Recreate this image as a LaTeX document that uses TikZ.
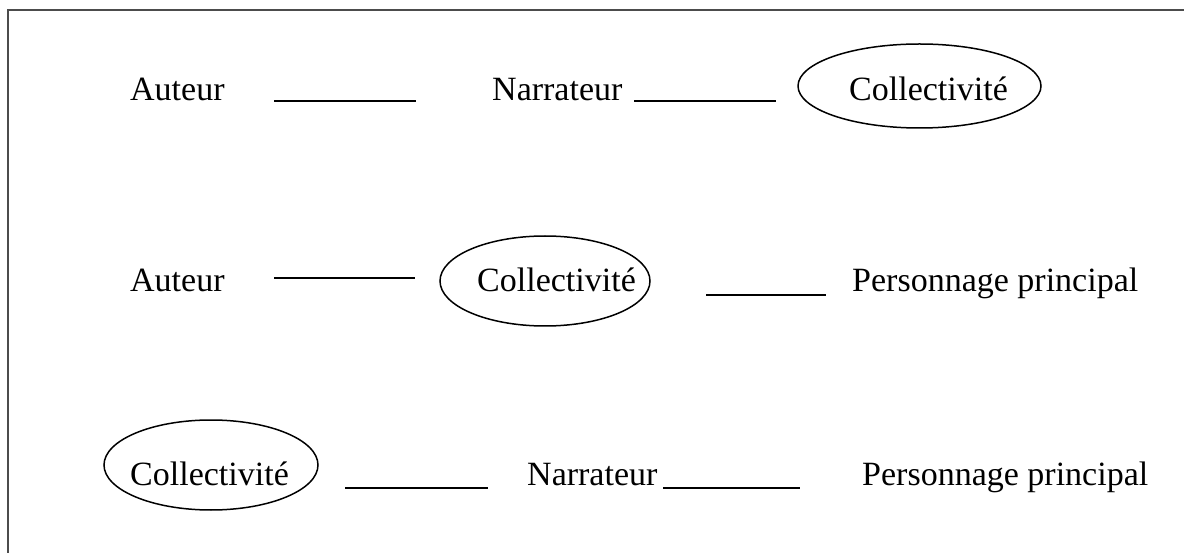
\documentclass[tikz,border=0pt]{standalone}
\usepackage{fontspec}
\setmainfont{Liberation Serif}
\usetikzlibrary{shapes.geometric}
\begin{document}
\begin{tikzpicture}[x=1pt,y=-1pt,
  lbl/.style={anchor=base west,inner sep=0pt,font=\fontsize{34}{40}\selectfont},
  ring/.style={ellipse,draw,line width=1.5pt,inner sep=0pt},
  link/.style={line width=2pt},
  frameline/.style={draw=black!70,line width=1.2pt}]
\useasboundingbox (0,0) rectangle (1184,553);
\draw[frameline] (8,553) -- (8,10) -- (1184,10);
% row 1
\node[lbl] (a1) at (130,101) {Auteur};
\coordinate (l1s) at (274,101); \coordinate (l1e) at (416,101);
\draw[link] (l1s) -- (l1e);
\node[lbl] (n1) at (492,101) {Narrateur};
\coordinate (l2s) at (634,101); \coordinate (l2e) at (776,101);
\draw[link] (l2s) -- (l2e);
\node[ring,minimum width=243,minimum height=84] (e1) at (919.5,86) {};
\node[lbl] (c1) at (849,101) {Collectivité};
% row 2
\node[lbl] (a2) at (130,292) {Auteur};
\coordinate (l3s) at (274,278); \coordinate (l3e) at (415,278);
\draw[link] (l3s) -- (l3e);
\node[ring,minimum width=210,minimum height=90] (e2) at (545,281) {};
\node[lbl] (c2) at (477,292) {Collectivité};
\coordinate (l4s) at (706,295); \coordinate (l4e) at (826,295);
\draw[link] (l4s) -- (l4e);
\node[lbl] (p2) at (852,292) {Personnage principal};
% row 3
\node[ring,minimum width=214,minimum height=90] (e3) at (211,465) {};
\node[lbl] (c3) at (130,485) {Collectivité};
\coordinate (l5s) at (345,488); \coordinate (l5e) at (488,488);
\draw[link] (l5s) -- (l5e);
\node[lbl] (n3) at (527,485) {Narrateur};
\coordinate (l6s) at (663,488); \coordinate (l6e) at (800,488);
\draw[link] (l6s) -- (l6e);
\node[lbl] (p3) at (862,485) {Personnage principal};
\end{tikzpicture}
\end{document}
